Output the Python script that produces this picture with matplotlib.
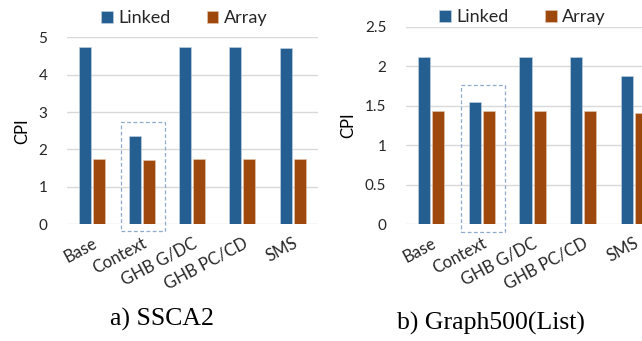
import numpy as np
import matplotlib
matplotlib.use("Agg")
import matplotlib.pyplot as plt
from matplotlib.patches import Rectangle

plt.rcParams['font.family'] = ['Lato', 'DejaVu Sans']

schemes = ['Base', 'Context', 'GHB G/DC', 'GHB PC/CD', 'SMS']
series = ['Linked', 'Array']

ssca2_linked = [4.75, 2.36, 4.75, 4.75, 4.72]
ssca2_array = [1.74, 1.72, 1.74, 1.74, 1.74]

g500_linked = [2.12, 1.54, 2.11, 2.11, 1.88]
g500_array = [1.43, 1.43, 1.43, 1.43, 1.41]

ssca2_ticks = [0, 1, 2, 3, 4, 5]
g500_ticks = [0, 0.5, 1, 1.5, 2, 2.5]
g500_ticklabels = ['0', '0.5', '1', '1.5', '2', '2.5']

blue = '#255E91'
rust = '#9E480E'
grid_c = '#D9D9D9'
box_c = '#8FAACB'
text_c = '#262626'


def panel(ax, linked, array, ticks, ticklabels, box_pad, box_bottom):
    x = np.arange(len(schemes))
    bw = 0.24
    off = 0.139
    ax.bar(x - off, linked, bw, color=blue, edgecolor='#C9D6E6', linewidth=0.4,
           label=series[0], zorder=3)
    ax.bar(x + off, array, bw, color=rust, edgecolor='#E8C9B4', linewidth=0.4,
           label=series[1], zorder=3)
    ax.set_xlim(-0.5, len(schemes) - 0.5)
    ax.set_ylim(ticks[0], ticks[-1])
    ax.set_yticks(ticks)
    ax.set_yticklabels(ticklabels, fontsize=11, color=text_c)
    for t in ticks:
        ax.axhline(t, color=grid_c, linewidth=1.0, zorder=1)
    ax.set_xticks(x)
    ax.set_xticklabels(schemes, rotation=28, ha='right', rotation_mode='anchor',
                       fontsize=12, color=text_c)
    ax.tick_params(axis='both', length=0)
    ax.tick_params(axis='x', pad=8)
    ax.tick_params(axis='y', pad=14)
    for s in ax.spines.values():
        s.set_visible(False)
    ax.set_ylabel('CPI', fontsize=12, color='black', labelpad=6)

    # dashed frame around the Context pair
    i = schemes.index('Context')
    top = max(linked[i], array[i]) + box_pad
    ax.add_patch(Rectangle((i - 0.42, box_bottom), 0.88, top - box_bottom,
                           fill=False, edgecolor=box_c, linestyle=(0, (3, 2)),
                           linewidth=0.9, clip_on=False, zorder=4))

    leg = ax.legend(loc='center', bbox_to_anchor=(0.5, 1.0), bbox_transform=ax.transAxes,
                    ncol=2, frameon=False, fontsize=13, handlelength=0.65,
                    handleheight=0.65, handletextpad=0.3, columnspacing=2.0,
                    borderaxespad=0)
    for t in leg.get_texts():
        t.set_color(text_c)
    return leg


fig = plt.figure(figsize=(6.42, 3.41), dpi=100)

ax1 = fig.add_axes([0.1039, 0.3431, 0.391, 0.547])
ax2 = fig.add_axes([0.632, 0.3431, 0.395, 0.5786])

l1 = panel(ax1, ssca2_linked, ssca2_array, ssca2_ticks, [str(t) for t in ssca2_ticks], 0.38, -0.18)
l1.set_bbox_to_anchor((0.287, 0.947), transform=fig.transFigure)
l2 = panel(ax2, g500_linked, g500_array, g500_ticks, g500_ticklabels, 0.22, -0.1)
l2.set_bbox_to_anchor((0.814, 0.95), transform=fig.transFigure)

fig.text(0.252, 0.062, 'a) SSCA2', family='Liberation Serif', fontsize=18.5,
         ha='center', va='center', color='black')
fig.text(0.765, 0.05, 'b) Graph500(List)', family='Liberation Serif', fontsize=18.5,
         ha='center', va='center', color='black')

fig.savefig('out.png', dpi=100)
